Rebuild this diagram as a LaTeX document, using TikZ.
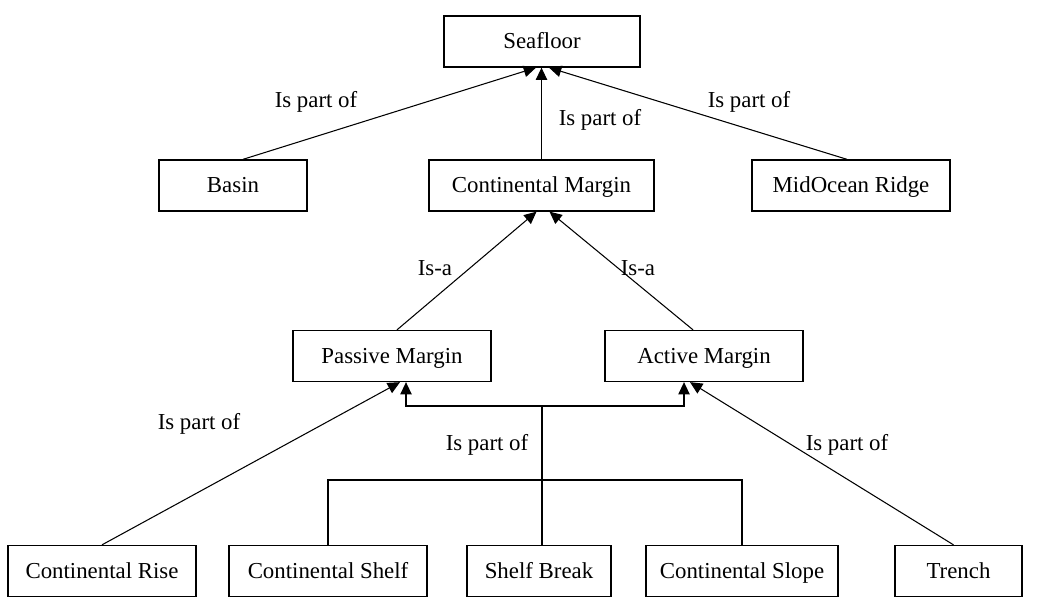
\documentclass[tikz,border=0pt]{standalone}
\usepackage{fontspec}
\setmainfont{Liberation Serif}
\usetikzlibrary{positioning, arrows.meta}

\begin{document}
\begin{tikzpicture}
    [
      x=0.02cm, y=0.02cm,
      box/.style = {shape=rectangle, draw, line width=0.75pt, inner sep=0pt,
                    minimum height=1.02cm, text height=10pt, text depth=2pt,
                    font=\fontsize{13pt}{15pt}\selectfont},
      lbl/.style = {font=\fontsize{13pt}{15pt}\selectfont, inner sep=1pt,
                    text height=10pt, text depth=2pt},
      link/.style = {line width=0.6pt},
      isa/.style = {link, -{Triangle[length=7pt, width=6.5pt]}}
    ]

    \useasboundingbox (0,0) rectangle (1037,-604);

    % boxes
    \node[box, minimum width=3.92cm] (sea)    at (542,-41.5) {Seafloor};
    \node[box, minimum width=2.96cm] (basin)  at (233,-185.5) {Basin};
    \node[box, minimum width=4.5cm]  (cm)     at (541.5,-185.5) {Continental Margin};
    \node[box, minimum width=3.96cm] (mor)    at (851,-185.5) {MidOcean Ridge};
    \node[box, minimum width=3.96cm] (pm)     at (392,-356) {Passive Margin};
    \node[box, minimum width=3.96cm] (am)     at (704,-356) {Active Margin};
    \node[box, minimum width=3.76cm] (rise)   at (102,-571) {Continental Rise};
    \node[box, minimum width=3.96cm] (shelf)  at (328,-571) {Continental Shelf};
    \node[box, minimum width=2.88cm] (brk)    at (539,-571) {Shelf Break};
    \node[box, minimum width=3.84cm] (slope)  at (742,-571) {Continental Slope};
    \node[box, minimum width=2.54cm] (trench) at (958.5,-571) {Trench};

    \coordinate (jn)  at (542,-406);
    \coordinate (bar) at (542,-480);

    % connectors
    \draw[isa] ([xshift=0.2cm]basin.north) -- ([xshift=-0.12cm]sea.south);
    \draw[isa] (cm.north) -- (cm.north |- sea.south);
    \draw[isa] ([xshift=-0.08cm]mor.north) -- ([xshift=0.14cm]sea.south);
    \draw[isa] ([xshift=0.1cm]pm.north) -- ([xshift=-0.1cm]cm.south);
    \draw[isa] ([xshift=-0.22cm]am.north) -- ([xshift=0.16cm]cm.south);
    \draw[isa] (rise.north) -- ([xshift=0.16cm]pm.south);
    \draw[isa] ([xshift=-0.1cm]trench.north) -- ([xshift=-0.28cm]am.south);
    \draw[link] (brk.north -| jn) -- (jn);
    \draw[isa] (jn) -| ([xshift=0.28cm]pm.south);
    \draw[isa] (jn) -| ([xshift=-0.4cm]am.south);
    \draw[link] (shelf.north) |- (slope.north |- bar) -- (slope.north);

    % labels
    \node[lbl] (l1) at (316,-100) {Is part of};
    \node[lbl] (l2) at (600,-118) {Is part of};
    \node[lbl] (l3) at (749,-100) {Is part of};
    \node[lbl] (l4) at (435,-268) {Is-a};
    \node[lbl] (l5) at (638,-268) {Is-a};
    \node[lbl] (l6) at (199,-422) {Is part of};
    \node[lbl] (l7) at (487,-443) {Is part of};
    \node[lbl] (l8) at (847,-443) {Is part of};
\end{tikzpicture}
\end{document}
